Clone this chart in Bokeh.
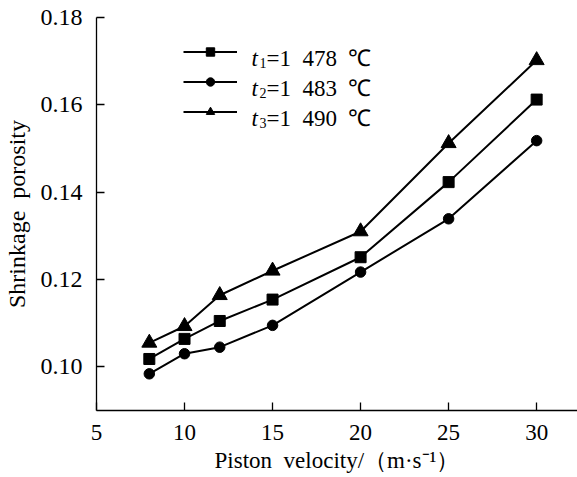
from bokeh.plotting import figure
from bokeh.models import Legend, LegendItem, Label, Range1d, FixedTicker, CustomJSTickFormatter
from bokeh.embed import file_html
from bokeh.resources import INLINE

# ---- data ----
velocity = [8, 10, 12, 15, 20, 25, 30]
t1_porosity = [0.1018, 0.1064, 0.1105, 0.1154, 0.1251, 0.1423, 0.1612]
t2_porosity = [0.0984, 0.1030, 0.1045, 0.1095, 0.1217, 0.1339, 0.1518]
t3_porosity = [0.1055, 0.1093, 0.1164, 0.1220, 0.1310, 0.1512, 0.1702]
series_sub = ["1", "2", "3"]
series_rest = ["=1\u2002478\u2002\u2103", "=1\u2002483\u2002\u2103", "=1\u2002490\u2002\u2103"]
x_ticks = [5, 10, 15, 20, 25, 30]
y_ticks = [0.10, 0.12, 0.14, 0.16, 0.18]

FONT = "Liberation Serif"
FS = "23px"

p = figure(width=577, height=477, output_backend="svg", toolbar_location=None,
           x_range=Range1d(5, 32.32), y_range=Range1d(0.09, 0.18),
           min_border_left=95, min_border_right=0, min_border_top=17, min_border_bottom=67)
p.outline_line_color = None
p.grid.visible = False
p.background_fill_color = "white"
p.border_fill_color = "white"

p.xaxis.ticker = FixedTicker(ticks=x_ticks)
p.yaxis.ticker = FixedTicker(ticks=y_ticks)
p.yaxis.formatter = CustomJSTickFormatter(code="return tick.toFixed(2);")

for ax in (p.xaxis[0], p.yaxis[0]):
    ax.major_tick_in = 8
    ax.major_tick_out = 0
    ax.minor_tick_line_color = None
    ax.axis_line_width = 1.3
    ax.major_tick_line_width = 1.3
    ax.axis_line_color = "black"
    ax.major_tick_line_color = "black"
    ax.major_label_text_font = FONT
    ax.major_label_text_font_size = FS
    ax.major_label_text_color = "black"
    ax.axis_label_text_font = FONT
    ax.axis_label_text_font_size = FS
    ax.axis_label_text_font_style = "normal"
    ax.axis_label_text_color = "black"

p.yaxis.major_label_text_font_size = "24px"
p.xaxis.axis_label = "Piston\u2002velocity/\uff08m\u00b7s\u207b\u00b9\uff09"
p.yaxis.axis_label = "Shrinkage\u2002porosity"
p.yaxis.axis_label_text_font_size = "24px"
p.xaxis.major_label_standoff = 14
p.xaxis.axis_label_standoff = 5
p.yaxis.major_label_standoff = 14
p.yaxis.axis_label_standoff = 8

LW = 2
items = []
series = [(t1_porosity, "square", 11), (t2_porosity, "circle", 10.5), (t3_porosity, "triangle", 15)]
for i, (ys, mk, sz) in enumerate(series):
    lr = p.line(velocity, ys, line_color="black", line_width=LW)
    sr = p.scatter(velocity, ys, marker=mk, size=sz, fill_color="black", line_color="black")
    items.append(LegendItem(label=" ", renderers=[lr, sr]))

legend = Legend(items=items, location=(87, 288), padding=0, margin=0,
                glyph_width=54, glyph_height=21, spacing=9,
                border_line_color=None, background_fill_alpha=0,
                label_text_font_size="2px", label_standoff=0)
p.add_layout(legend, "center")

# legend texts in screen units (relative to frame)
row_y = [410 - 51, 410 - 81, 410 - 111]
for i in range(3):
    p.add_layout(Label(x=250 - 95, y=row_y[i] - 7, x_units="screen", y_units="screen",
                       text="t", text_font=FONT, text_font_style="italic", text_color="black",
                       text_font_size=FS, text_baseline="alphabetic"))
    p.add_layout(Label(x=258 - 95, y=row_y[i] - 11, x_units="screen", y_units="screen",
                       text=series_sub[i], text_font=FONT, text_color="black",
                       text_font_size="14px", text_baseline="alphabetic"))
    p.add_layout(Label(x=265 - 95, y=row_y[i] - 7, x_units="screen", y_units="screen",
                       text=series_rest[i], text_font=FONT, text_color="black",
                       text_font_size=FS, text_baseline="alphabetic"))

open("out.html", "w").write(file_html(p, INLINE))
